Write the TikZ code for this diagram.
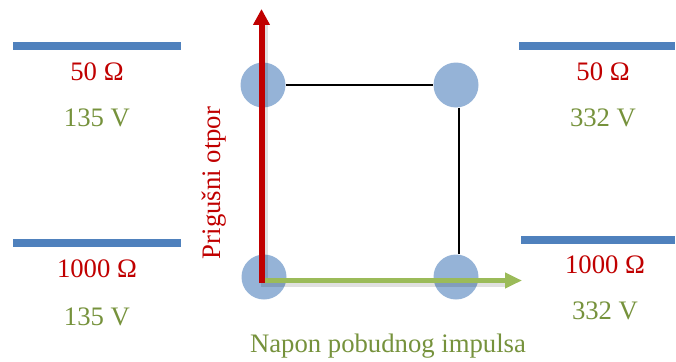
\documentclass[tikz,border=0pt]{standalone}
\usepackage{fontspec}
\setmainfont{Liberation Serif}
\usetikzlibrary{arrows.meta}
\definecolor{barblue}{HTML}{4F81BD}
\definecolor{dotblue}{HTML}{95B3D7}
\definecolor{ored}{HTML}{C00000}
\definecolor{ogreen}{HTML}{76923C}
\definecolor{agreen}{HTML}{9BBB59}
\begin{document}
\begin{tikzpicture}[x=1pt,y=-1pt,
  bar/.style={barblue, line width=7.5pt},
  dot/.style={circle, fill=dotblue, minimum size=45pt, inner sep=0pt, draw=none},
  lbl/.style={font=\fontsize{26.7}{30}\selectfont, anchor=base, inner sep=0pt},
  ohm/.style={lbl, text=ored},
  volt/.style={lbl, text=ogreen},
  link/.style={black, line width=1.6pt},
  redaxis/.style={ored, line width=6pt, -{Triangle[width=16pt,length=16pt]}},
  greenaxis/.style={agreen, line width=5.5pt, -{Triangle[width=15pt,length=17pt]}},
  shadowline/.style={black, opacity=0.12, line width=6pt},
]
\useasboundingbox (0,0) rectangle (676,361);

% level bars
\draw[bar] (13,46) -- (181,46);
\draw[bar] (13,243) -- (181,243);
\draw[bar] (519,46) -- (675,46);
\draw[bar] (521,240) -- (675,240);

% labels
\node[ohm]  (l50)   at (97,80)  {50 Ω};
\node[volt] (l135a) at (97,126) {135 V};
\node[ohm]  (l1000) at (97,277) {1000 Ω};
\node[volt] (l135b) at (97,325) {135 V};
\node[ohm]  (r50)   at (603,80) {50 Ω};
\node[volt] (r332a) at (603,126) {332 V};
\node[ohm]  (r1000) at (605,273) {1000 Ω};
\node[volt] (r332b) at (605,319) {332 V};

% circles
\node[dot] (tl) at (263,85) {};
\node[dot] (tr) at (456,85) {};
\node[dot] (bl) at (264,277) {};
\node[dot] (br) at (456,277) {};

% connecting lines
\draw[link] (tl.east) -- (tr.west);
\draw[link] ([xshift=3pt]tr.south) -- ([xshift=3pt]br.north);

% axes
\coordinate (gstart) at (259,280.5);
\coordinate (xtip) at (522,280.5);
\coordinate (rstart) at (261.5,283);
\coordinate (ytip) at (261.5,9);
\draw[shadowline] ([shift={(2,3)}]gstart) -- ([shift={(-14,3)}]xtip);
\draw[shadowline] ([shift={(3,0)}]rstart) -- ([shift={(3,14)}]ytip);
\draw[greenaxis] (gstart) -- (xtip);
\draw[redaxis] (rstart) -- (ytip);

% axis titles
\node[lbl, text=ored, rotate=90] (ylab) at (220,183) {Prigušni otpor};
\node[lbl, text=ogreen] (xlab) at (388,352) {Napon pobudnog impulsa};
\end{tikzpicture}
\end{document}
